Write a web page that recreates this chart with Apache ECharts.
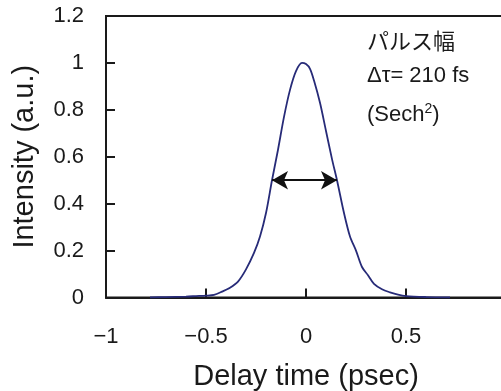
<!DOCTYPE html>
<html>
<head>
<meta charset="utf-8">
<script src="https://cdn.jsdelivr.net/npm/echarts@6/dist/echarts.min.js"></script>
<style>
  html, body { margin: 0; padding: 0; background: #fff; }
  #chart { width: 501px; height: 391px; }
</style>
</head>
<body>
<div id="chart"></div>
<script>
const delayTime = [-0.78, -0.7, -0.6, -0.55, -0.5, -0.46, -0.42, -0.38, -0.34, -0.3,
  -0.26, -0.23, -0.2, -0.17, -0.14, -0.11, -0.08, -0.05, -0.02, 0,
  0.02, 0.04, 0.07, 0.1, 0.13, 0.155, 0.19, 0.22, 0.25, 0.28,
  0.31, 0.34, 0.38, 0.42, 0.46, 0.5, 0.6, 0.72];
const intensity = [0.0, 0.002, 0.004, 0.006, 0.008, 0.011, 0.025, 0.042, 0.068, 0.12,
  0.19, 0.26, 0.36, 0.5, 0.63, 0.77, 0.885, 0.965, 1.0, 0.995,
  0.975, 0.925, 0.83, 0.71, 0.59, 0.5, 0.36, 0.26, 0.2, 0.13,
  0.095, 0.058, 0.035, 0.022, 0.012, 0.006, 0.002, 0.0];

// FWHM arrow end points
const fwhmStart = [-0.17, 0.5];
const fwhmEnd = [0.155, 0.5];

const xTicks = [-1, -0.5, 0, 0.5, 1];
const yTicks = [0, 0.2, 0.4, 0.6, 0.8, 1, 1.2];

const annotation = ['パルス幅', 'Δτ= 210 fs', '(Sech{sup|2})'];

const fontLatin = '"Liberation Sans", "Noto Sans CJK JP", sans-serif';
const textColor = '#1a1a1a';

const chart = echarts.init(document.getElementById('chart'));

chart.setOption({
  backgroundColor: '#fff',
  animation: false,
  grid: {
    left: 106,
    top: 16,
    width: 400,
    bottom: 93.5,
    containLabel: false,
    outerBoundsMode: 'none',
    show: true,
    borderColor: '#1a1a1a',
    borderWidth: 2
  },
  xAxis: {
    type: 'value',
    min: xTicks[0],
    max: xTicks[xTicks.length - 1],
    interval: 0.5,
    name: 'Delay time (psec)',
    nameLocation: 'middle',
    nameGap: 65,
    nameTextStyle: { fontSize: 29, color: textColor, fontFamily: fontLatin },
    axisLine: { onZero: false, lineStyle: { color: '#1a1a1a', width: 2 } },
    axisTick: { inside: true, length: 9, lineStyle: { color: '#1a1a1a', width: 2 } },
    splitLine: { show: false },
    axisLabel: {
      margin: 28,
      fontSize: 22,
      color: textColor,
      fontFamily: fontLatin,
      formatter: v => String(v).replace('-', '\u2212')
    }
  },
  yAxis: {
    type: 'value',
    min: yTicks[0],
    max: yTicks[yTicks.length - 1],
    interval: 0.2,
    name: 'Intensity (a.u.)',
    nameLocation: 'middle',
    nameGap: 66,
    nameTextStyle: { fontSize: 29, color: textColor, fontFamily: fontLatin },
    axisLine: { onZero: false, lineStyle: { color: '#1a1a1a', width: 2 } },
    axisTick: { inside: true, length: 9, lineStyle: { color: '#1a1a1a', width: 2 } },
    splitLine: { show: false },
    axisLabel: {
      margin: 22,
      fontSize: 22,
      color: textColor,
      fontFamily: fontLatin,
      formatter: v => String(Math.round(v * 10) / 10)
    }
  },
  series: [{
    type: 'line',
    data: delayTime.map((t, i) => [t, intensity[i]]),
    smooth: 0.3,
    showSymbol: false,
    lineStyle: { color: '#272b78', width: 1.8 },
    markLine: {
      silent: true,
      symbol: ['arrow', 'arrow'],
      symbolSize: [14, 16],
      label: { show: false },
      lineStyle: { color: '#111', width: 2, type: 'solid' },
      data: [[{ coord: fwhmStart }, { coord: fwhmEnd }]]
    }
  }],
  graphic: annotation.map((txt, i) => ({
    type: 'text',
    left: 367,
    top: [32, 65, 102][i],
    style: {
      text: txt,
      fontSize: 22,
      fontFamily: fontLatin,
      fill: textColor,
      rich: { sup: { fontSize: 14, verticalAlign: 'top', padding: [0, 0, 11, 0], fill: textColor } }
    }
  }))
});
</script>
</body>
</html>
